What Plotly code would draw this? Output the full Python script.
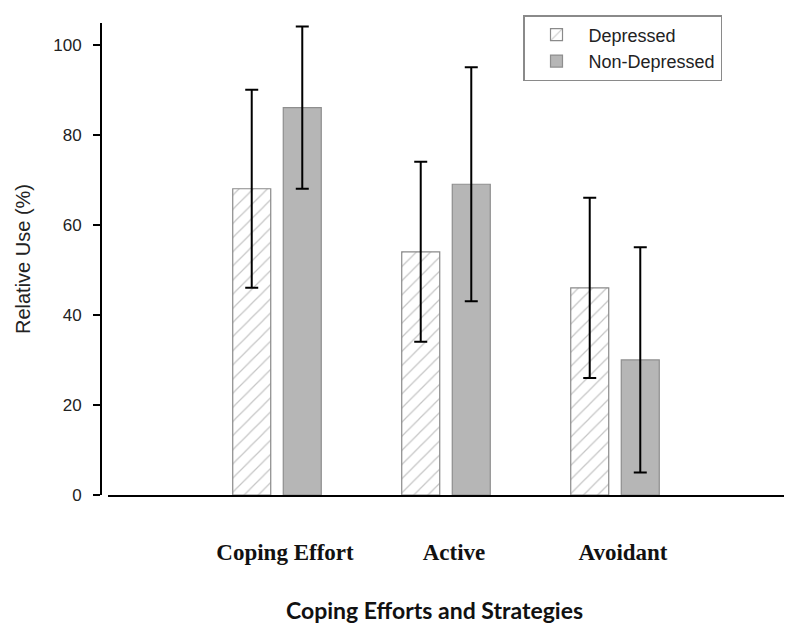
import plotly.graph_objects as go

categories = ["Coping Effort", "Active", "Avoidant"]
depressed = [68, 54, 46]
depressed_err = [22, 20, 20]
non_depressed = [86, 69, 30]
non_depressed_err = [18, 26, 25]
y_ticks = [0, 20, 40, 60, 80, 100]

fig = go.Figure()
fig.add_trace(go.Bar(
    name="Depressed", x=categories, y=depressed,
    marker=dict(color="white",
                line=dict(color="#8a8a8a", width=1.2),
                pattern=dict(shape="/", fgcolor="#8c8c8c", bgcolor="white",
                             size=10, solidity=0.12)),
    error_y=dict(type="data", array=depressed_err, visible=True,
                 color="black", thickness=2, width=6.5),
))
fig.add_trace(go.Bar(
    name="Non-Depressed", x=categories, y=non_depressed,
    marker=dict(color="#b6b6b6", line=dict(color="#8e8e8e", width=1.2)),
    error_y=dict(type="data", array=non_depressed_err, visible=True,
                 color="black", thickness=2, width=6.5),
))

# page body has an 8px margin: shrink figure and margins by 8px accordingly
fig.update_layout(
    width=792, height=629,
    margin=dict(l=93, r=16, t=15, b=142, autoexpand=False),
    paper_bgcolor="white", plot_bgcolor="white",
    barmode="group", bargap=0.402, bargroupgap=0.248,
    showlegend=True,
    legend=dict(x=(523-101)/683, y=(495-15)/472, xanchor="left", yanchor="top",
                bgcolor="white", bordercolor="#8a8a8a", borderwidth=1.5,
                font=dict(family="Liberation Sans, Arial", size=18, color="#222"),
                tracegroupgap=2, itemwidth=54),
    xaxis=dict(
        domain=[7/683, 1], range=[-1, 3], automargin=False,
        showline=True, linecolor="black", linewidth=2,
        ticks="", showgrid=False, zeroline=False,
        tickfont=dict(family="Liberation Serif, Times New Roman", size=23,
                      color="#111", weight="bold"),
        ticklabelstandoff=35, ticklabelshift=8,
    ),
    yaxis=dict(
        anchor="free", position=0, automargin=False,
        range=[0, 104.8], tickvals=y_ticks,
        showline=True, linecolor="black", linewidth=2,
        ticks="outside", ticklen=7, tickwidth=1.5, tickcolor="black",
        showgrid=False, zeroline=False,
        tickfont=dict(family="Liberation Sans, Arial", size=17, color="#222"),
        ticklabelstandoff=8,
        title=dict(text="Relative Use (%)", standoff=16,
                   font=dict(family="Liberation Sans, Arial", size=20, color="#222")),
    ),
    annotations=[dict(
        text="Coping Efforts and Strategies", xref="paper", yref="paper",
        x=(434-101)/683, y=-(610-495)/472, xanchor="center", yanchor="middle",
        showarrow=False,
        font=dict(family="Lato, Open Sans", size=23, color="#111", weight="bold"),
    )],
)

fig.write_html("out.html")
